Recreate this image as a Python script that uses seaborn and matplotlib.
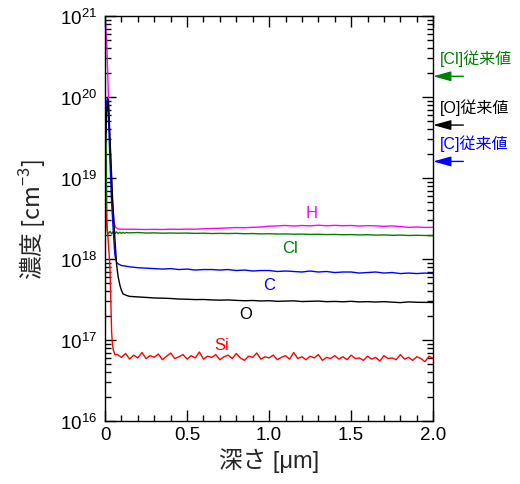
import numpy as np
import pandas as pd
import matplotlib
matplotlib.use('Agg')
import matplotlib.pyplot as plt
from matplotlib.ticker import MultipleLocator, FixedLocator, FixedFormatter
import seaborn as sns

# all concentrations in units of 1e17 cm^-3
UNIT = 1e17

# near-surface region of each profile
h_depth_surf = [0.0, 0.005, 0.01, 0.02, 0.03, 0.04, 0.047, 0.055, 0.065, 0.08, 0.10]
h_conc_surf = [10000, 7000, 4800, 1120, 275, 89, 42, 28, 24.5, 23.4, 23.3]

cl_depth_surf = [0.0, 0.003, 0.006, 0.009, 0.012, 0.016, 0.02, 0.03, 0.04, 0.05, 0.06,
                 0.07, 0.08, 0.09, 0.10, 0.11, 0.12, 0.13]
cl_conc_surf = [950, 900, 400, 80, 25, 21.0, 20.5, 21.9, 20.4, 21.7, 20.5,
                21.6, 20.6, 21.4, 20.7, 21.3, 20.8, 21.2]

c_depth_surf = [0.0, 0.008, 0.014, 0.02, 0.03, 0.04, 0.05, 0.06, 0.07, 0.08, 0.09,
                0.10, 0.12]
c_conc_surf = [320, 800, 960, 630, 160, 50, 22.4, 11.2, 9.1, 8.7, 8.5,
               8.3, 8.2]

o_depth_surf = [0.0, 0.01, 0.02, 0.03, 0.046, 0.06, 0.071, 0.08, 0.091, 0.10, 0.11,
                0.13]
o_conc_surf = [200, 630, 930, 316, 55, 17.8, 8.3, 6.0, 4.7, 4.1, 3.7,
               3.55]

si_depth_surf = [0.0, 0.005, 0.01, 0.02, 0.03, 0.035, 0.04, 0.045, 0.05, 0.06]
si_conc_surf = [50, 40, 28, 16, 8.0, 3.2, 1.26, 0.89, 0.76, 0.66]

# bulk region (shared depth grid for H, Cl, C, O)
depth_bulk = [0.15, 0.2, 0.25, 0.3, 0.35, 0.4, 0.45, 0.5, 0.55, 0.6,
              0.65, 0.7, 0.75, 0.8, 0.85, 0.9, 0.95, 1.0, 1.05, 1.1,
              1.15, 1.2, 1.25, 1.3, 1.35, 1.4, 1.45, 1.5, 1.55, 1.6,
              1.65, 1.7, 1.75, 1.8, 1.85, 1.9, 1.95, 2.0]
h_conc_bulk = [23.3, 23.2, 23.1, 23.2, 23.1, 23.3, 23.2, 23.4, 23.3, 23.6,
               23.8, 23.9, 24.2, 24.4, 24.3, 24.6, 24.8, 25.4, 25.6, 25.9,
               25.5, 25.9, 25.6, 26.1, 25.7, 26.0, 25.7, 25.9, 25.5, 25.8,
               25.6, 25.3, 25.6, 25.1, 24.6, 24.8, 24.5, 24.6]
cl_conc_bulk = [21.0, 21.2, 20.9, 21.0, 20.8, 20.9, 20.8, 20.9, 20.7, 20.8,
                20.6, 20.7, 20.6, 20.7, 20.5, 20.6, 20.4, 20.5, 20.3, 20.4,
                20.2, 20.3, 20.1, 20.2, 20.0, 20.1, 19.9, 20.0, 19.8, 19.9,
                19.7, 19.8, 19.6, 19.7, 19.5, 19.6, 19.5, 19.4]
c_conc_bulk = [8.0, 7.8, 7.7, 7.6, 7.5, 7.6, 7.4, 7.5, 7.3, 7.4,
               7.4, 7.3, 7.4, 7.2, 7.3, 7.1, 7.2, 7.2, 7.0, 7.1,
               7.0, 6.9, 7.1, 6.9, 7.0, 6.8, 6.9, 6.9, 6.7, 6.8,
               6.9, 6.7, 6.8, 6.6, 6.7, 6.6, 6.7, 6.6]
o_conc_bulk = [3.45, 3.4, 3.35, 3.3, 3.28, 3.25, 3.2, 3.18, 3.15, 3.16,
               3.12, 3.1, 3.12, 3.08, 3.05, 3.07, 3.03, 3.05, 3.0, 3.02,
               3.04, 2.98, 3.0, 3.02, 2.97, 2.99, 2.96, 3.0, 2.95, 2.97,
               2.94, 2.97, 2.93, 2.89, 2.95, 2.92, 2.91, 2.9]

# Si bulk is noisier, finer depth grid
si_depth_bulk = [0.075, 0.1, 0.125, 0.15, 0.175, 0.2, 0.225, 0.25, 0.275, 0.3,
                 0.325, 0.35, 0.375, 0.4, 0.425, 0.45, 0.475, 0.5, 0.525, 0.55,
                 0.575, 0.6, 0.625, 0.65, 0.675, 0.7, 0.725, 0.75, 0.775, 0.8,
                 0.825, 0.85, 0.875, 0.9, 0.925, 0.95, 0.975, 1.0, 1.025, 1.05,
                 1.075, 1.1, 1.125, 1.15, 1.175, 1.2, 1.225, 1.25, 1.275, 1.3,
                 1.325, 1.35, 1.375, 1.4, 1.425, 1.45, 1.475, 1.5, 1.525, 1.55,
                 1.575, 1.6, 1.625, 1.65, 1.675, 1.7, 1.725, 1.75, 1.775, 1.8,
                 1.825, 1.85, 1.875, 1.9, 1.925, 1.95, 1.975, 2.0]
si_conc_bulk = [0.66, 0.61, 0.68, 0.58, 0.65, 0.60, 0.70, 0.59, 0.64, 0.61,
                0.67, 0.57, 0.63, 0.69, 0.59, 0.62, 0.66, 0.58, 0.64, 0.60,
                0.71, 0.58, 0.63, 0.61, 0.66, 0.57, 0.62, 0.65, 0.59, 0.68,
                0.60, 0.56, 0.63, 0.61, 0.69, 0.58, 0.62, 0.60, 0.65, 0.57,
                0.61, 0.64, 0.58, 0.70, 0.59, 0.62, 0.57, 0.63, 0.60, 0.66,
                0.56, 0.61, 0.59, 0.64, 0.58, 0.62, 0.57, 0.65, 0.59, 0.60,
                0.56, 0.63, 0.58, 0.61, 0.55, 0.64, 0.59, 0.60, 0.57, 0.66,
                0.58, 0.61, 0.56, 0.62, 0.59, 0.54, 0.63, 0.59]

elements = ['H', 'Cl', 'C', 'O', 'Si']
colors = ['#ff00ff', '#008000', '#0000ff', '#000000', '#ff0000']

# label positions (depth, concentration in 1e17)
label_x = [1.26, 1.13, 1.0, 0.86, 0.71]
label_y = [38, 13.7, 4.9, 2.1, 0.89]

# conventional values marked outside the axes
conv_labels = ['[Cl]従来値', '[O]従来値', '[C]従来値']
conv_values = [1800, 450, 160]
conv_colors = ['#008000', '#000000', '#0000ff']

surf_depths = [h_depth_surf, cl_depth_surf, c_depth_surf, o_depth_surf, si_depth_surf]
surf_concs = [h_conc_surf, cl_conc_surf, c_conc_surf, o_conc_surf, si_conc_surf]
bulk_depths = [depth_bulk, depth_bulk, depth_bulk, depth_bulk, si_depth_bulk]
bulk_concs = [h_conc_bulk, cl_conc_bulk, c_conc_bulk, o_conc_bulk, si_conc_bulk]

frames = []
for el, sd, sc, bd, bc in zip(elements, surf_depths, surf_concs, bulk_depths, bulk_concs):
    frames.append(pd.DataFrame({'depth': list(sd) + list(bd),
                                'conc': (np.array(list(sc) + list(bc)) * UNIT),
                                'element': el}))
df = pd.concat(frames, ignore_index=True)

sns.set_style('ticks')
plt.rcParams['font.family'] = ['Liberation Sans', 'Noto Sans CJK JP']
plt.rcParams['mathtext.fontset'] = 'custom'
plt.rcParams['mathtext.rm'] = 'Liberation Sans'

fig = plt.figure(figsize=(5.2, 4.85), dpi=100)
ax = fig.add_axes([0.202, 0.130, 0.631, 0.835])

sns.lineplot(data=df, x='depth', y='conc', hue='element', hue_order=elements,
             palette=dict(zip(elements, colors)), estimator=None, sort=False,
             linewidth=1.0, legend=False, ax=ax)

ax.set_yscale('log')
ax.set_xlim(0, 2.0)
ax.set_ylim(1e16, 1e21)

ax.xaxis.set_major_locator(FixedLocator([0, 0.5, 1.0, 1.5, 2.0]))
ax.xaxis.set_major_formatter(FixedFormatter(['0', '0.5', '1.0', '1.5', '2.0']))
ax.xaxis.set_minor_locator(MultipleLocator(0.1))
ax.tick_params(which='both', direction='in', top=True, right=True, width=1,
               labelsize=13.5, colors='black')
ax.tick_params(axis='y', pad=6)
ax.tick_params(which='major', length=8)
ax.tick_params(which='minor', length=4)
for sp in ax.spines.values():
    sp.set_linewidth(1)
    sp.set_color('black')

ax.set_xlabel('深さ [μm]', fontsize=17, labelpad=3)
# mathtext label: use the CJK family so the kanji render inside the math layout
ax.set_ylabel('濃度 [cm$^{\\mathdefault{-3}}$]', fontsize=17, labelpad=8,
              family=['Noto Sans CJK JP'])

for el, col, lx, ly in zip(elements, colors, label_x, label_y):
    ax.text(lx, ly * UNIT, el, color=col, fontsize=12, ha='center', va='center')

for lab, val, col in zip(conv_labels, conv_values, conv_colors):
    ax.annotate('', xy=(1.0, val * UNIT), xycoords=('axes fraction', 'data'),
                xytext=(1.092, val * UNIT), textcoords=('axes fraction', 'data'),
                arrowprops=dict(arrowstyle='-|>,head_length=0.9,head_width=0.25',
                                color=col, lw=1, mutation_scale=12,
                                shrinkA=0, shrinkB=0),
                annotation_clip=False)
    ax.text(1.021, val * UNIT * 1.7, lab, color=col, fontsize=11.5,
            transform=ax.get_yaxis_transform(), ha='left', va='center', clip_on=False)

fig.savefig('out.png', dpi=100)
plt.close(fig)
